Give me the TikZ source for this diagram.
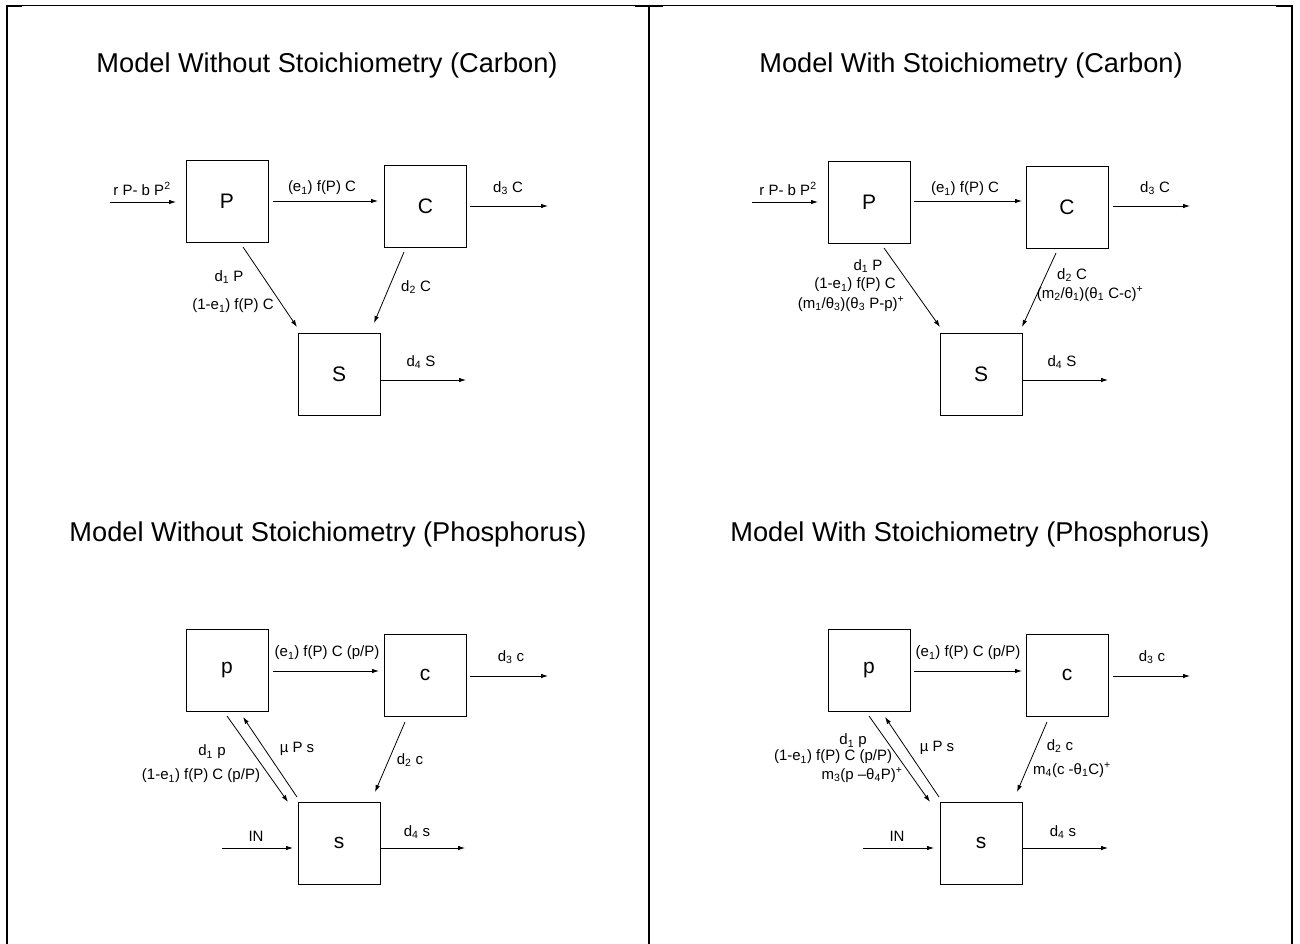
\documentclass[tikz,border=0pt]{standalone}
\usepackage{fontspec}
\setmainfont{Liberation Sans}
\usetikzlibrary{arrows.meta}
\tikzset{
  box/.style={draw, line width=0.8pt, minimum width=82pt, minimum height=82pt, inner sep=0pt, font=\fontsize{21}{25}\selectfont},
  lbl/.style={inner sep=0pt, font=\fontsize{15}{18}\selectfont},
  ttl/.style={inner sep=0pt, font=\fontsize{27.2}{31}\selectfont},
  arr/.style={line width=0.8pt, -{Latex[length=7pt,width=4.5pt]}},
  frame/.style={line width=2.5pt},
  thinframe/.style={line width=1pt}
}
\begin{document}
\begin{tikzpicture}[x=1pt,y=-1pt]
\useasboundingbox (0,0) rectangle (1300,944);
% frame
\draw[thinframe] (6,6) -- (1292,6);
\draw[frame] (7,6) -- (22,6) (635,6) -- (663,6) (1276,6) -- (1292,6);
\draw[frame] (7,5) -- (7,944) (649,5) -- (649,944) (1292,5) -- (1292,944);

% ===== Panel 1: Without stoichiometry (Carbon)
\node[ttl] (T1) at (327,65) {Model Without Stoichiometry (Carbon)};
\node[box] (P1) at (227,201) {P};
\node[box] (C1) at (425.5,206) {C};
\node[box] (S1) at (339,374) {S};
\coordinate (in1) at (110,202);
\coordinate (oc1) at (548,206);
\coordinate (os1) at (466,380);
\draw[arr] (in1) -- ([shift={(-51,1)}]P1.center);
\draw[arr] ([shift={(46,0)}]P1.center) -- ([shift={(-47.5,-5)}]C1.center);
\draw[arr] ([shift={(44.5,0)}]C1.center) -- (oc1);
\draw[arr] ([shift={(16,46)}]P1.center) -- ([shift={(-42,-47)}]S1.center);
\draw[arr] ([shift={(-21.5,46)}]C1.center) -- ([shift={(35,-51)}]S1.center);
\draw[arr] ([shift={(41,6)}]S1.center) -- (os1);
\node[lbl] (l1a) at (142,189) {r P- b P\textsuperscript{2}};
\node[lbl] (l1b) at (322,188) {(e\textsubscript{1}) f(P) C};
\node[lbl] (l1c) at (508,188) {d\textsubscript{3} C};
\node[lbl] (l1d) at (229,277) {d\textsubscript{1} P};
\node[lbl] (l1e) at (233,306) {(1-e\textsubscript{1}) f(P) C};
\node[lbl] (l1f) at (416,287) {d\textsubscript{2} C};
\node[lbl] (l1g) at (421,362) {d\textsubscript{4} S};

% ===== Panel 2: With stoichiometry (Carbon)
\node[ttl] (T2) at (971,65) {Model With Stoichiometry (Carbon)};
\node[box] (P2) at (869,202) {P};
\node[box] (C2) at (1067,207) {C};
\node[box] (S2) at (981,374) {S};
\coordinate (in2) at (752,202);
\coordinate (oc2) at (1190,206);
\coordinate (os2) at (1108,380);
\draw[arr] (in2) -- ([shift={(-51,0)}]P2.center);
\draw[arr] ([shift={(45,-1)}]P2.center) -- ([shift={(-45,-6)}]C2.center);
\draw[arr] ([shift={(46,-1)}]C2.center) -- (oc2);
\draw[arr] ([shift={(15,46)}]P2.center) -- ([shift={(-41,-47)}]S2.center);
\draw[arr] ([shift={(-11,46)}]C2.center) -- ([shift={(41,-47)}]S2.center);
\draw[arr] ([shift={(41,6)}]S2.center) -- (os2);
\node[lbl] (l2a) at (788,189) {r P- b P\textsuperscript{2}};
\node[lbl] (l2b) at (965,189) {(e\textsubscript{1}) f(P) C};
\node[lbl] (l2c) at (1155,188) {d\textsubscript{3} C};
\node[lbl] (l2d) at (868,266) {d\textsubscript{1} P};
\node[lbl] (l2e) at (855,285) {(1-e\textsubscript{1}) f(P) C};
\node[lbl] (l2f) at (851,304) {(m\textsubscript{1}/θ\textsubscript{3})(θ\textsubscript{3} P-p)\textsuperscript{+}};
\node[lbl] (l2g) at (1072,275) {d\textsubscript{2} C};
\node[lbl] (l2h) at (1090,294) {(m\textsubscript{2}/θ\textsubscript{1})(θ\textsubscript{1} C-c)\textsuperscript{+}};
\node[lbl] (l2i) at (1062,362) {d\textsubscript{4} S};

% ===== Panel 3: Without stoichiometry (Phosphorus)
\node[ttl] (T3) at (328,534) {Model Without Stoichiometry (Phosphorus)};
\node[box] (p3) at (227,670) {p};
\node[box] (c3) at (425,675) {c};
\node[box] (s3) at (339,843) {s};
\coordinate (in3) at (222,848);
\coordinate (oc3) at (548,676);
\coordinate (os3) at (465,848);
\draw[arr] ([shift={(46,1)}]p3.center) -- ([shift={(-46,-4)}]c3.center);
\draw[arr] ([shift={(45,1)}]c3.center) -- (oc3);
\draw[arr] ([shift={(0,46)}]p3.center) -- ([shift={(-51,-41)}]s3.center);
\draw[arr] ([shift={(-42,-46)}]s3.center) -- ([shift={(16,47)}]p3.center);
\draw[arr] ([shift={(-20,47)}]c3.center) -- ([shift={(36,-51)}]s3.center);
\draw[arr] (in3) -- ([shift={(-46,5)}]s3.center);
\draw[arr] ([shift={(42,5)}]s3.center) -- (os3);
\node[lbl] (l3a) at (327,653) {(e\textsubscript{1}) f(P) C (p/P)};
\node[lbl] (l3b) at (511,657) {d\textsubscript{3} c};
\node[lbl] (l3c) at (212,752) {d\textsubscript{1} p};
\node[lbl] (l3d) at (201,776) {(1-e\textsubscript{1}) f(P) C (p/P)};
\node[lbl] (l3e) at (297,749) {µ P s};
\node[lbl] (l3f) at (410,760) {d\textsubscript{2} c};
\node[lbl] (l3g) at (256,836) {IN};
\node[lbl] (l3h) at (417,832) {d\textsubscript{4} s};

% ===== Panel 4: With stoichiometry (Phosphorus)
\node[ttl] (T4) at (970,534) {Model With Stoichiometry (Phosphorus)};
\node[box] (p4) at (869,670) {p};
\node[box] (c4) at (1067,675) {c};
\node[box] (s4) at (981,843) {s};
\coordinate (in4) at (863,848);
\coordinate (oc4) at (1190,676);
\coordinate (os4) at (1108,848);
\draw[arr] ([shift={(45,1)}]p4.center) -- ([shift={(-45,-4)}]c4.center);
\draw[arr] ([shift={(46,1)}]c4.center) -- (oc4);
\draw[arr] ([shift={(0,46)}]p4.center) -- ([shift={(-51,-41)}]s4.center);
\draw[arr] ([shift={(-42,-46)}]s4.center) -- ([shift={(16,47)}]p4.center);
\draw[arr] ([shift={(-20,47)}]c4.center) -- ([shift={(36,-51)}]s4.center);
\draw[arr] (in4) -- ([shift={(-47,5)}]s4.center);
\draw[arr] ([shift={(42,5)}]s4.center) -- (os4);
\node[lbl] (l4a) at (968,653) {(e\textsubscript{1}) f(P) C (p/P)};
\node[lbl] (l4b) at (1152,657) {d\textsubscript{3} c};
\node[lbl] (l4c) at (853,741) {d\textsubscript{1} p};
\node[lbl] (l4d) at (833,757) {(1-e\textsubscript{1}) f(P) C (p/P)};
\node[lbl] (l4e) at (862,775) {m\textsubscript{3}(p –θ\textsubscript{4}P)\textsuperscript{+}};
\node[lbl] (l4f) at (937,748) {µ P s};
\node[lbl] (l4g) at (1060,746) {d\textsubscript{2} c};
\node[lbl] (l4h) at (1072,770) {m\textsubscript{4}(c -θ\textsubscript{1}C)\textsuperscript{+}};
\node[lbl] (l4i) at (897,836) {IN};
\node[lbl] (l4j) at (1063,832) {d\textsubscript{4} s};
\end{tikzpicture}
\end{document}
